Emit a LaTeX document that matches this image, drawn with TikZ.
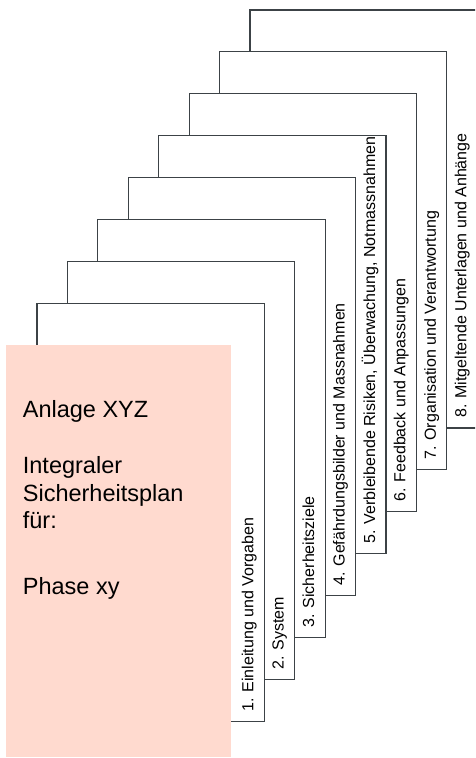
\documentclass[tikz,border=0pt]{standalone}
\usepackage{fontspec}
\setmainfont{Liberation Sans}
\definecolor{pinkbox}{RGB}{255,218,207}
\definecolor{sheetline}{RGB}{60,66,70}
\newcommand\mylabfont{\fontsize{16}{19}\selectfont}
\newcommand\mybigfont{\fontsize{23.5}{27}\selectfont}
\begin{document}
\begin{tikzpicture}[x=1pt,y=-1pt,
  sheet/.style={draw=sheetline, fill=white, line width=1.1pt, minimum width=227.3pt, minimum height=418pt, anchor=north west, inner sep=0pt, outer sep=0pt},
  lab/.style={rotate=90, anchor=base west, inner sep=0pt, font=\mylabfont},
  big/.style={anchor=base west, inner sep=0pt, font=\mybigfont},
  cover/.style={fill=pinkbox, anchor=north west, minimum width=225pt, minimum height=412pt, inner sep=0pt, outer sep=0pt}]
\useasboundingbox (0,0) rectangle (475,758);
\clip (0,0) rectangle (475,758);
\foreach \k in {8,7,...,1} {
  \node[sheet] (s\k) at ({37+30.43*(\k-1)}, {303.7-41.96*(\k-1)}) {};
}
\node[cover] (box) at (6,345) {};
\node[lab] (l1) at ([shift={(-11pt,10pt)}]s1.south east) {1. Einleitung und Vorgaben};
\node[lab] (l2) at ([shift={(-11pt,10pt)}]s2.south east) {2. System};
\node[lab] (l3) at ([shift={(-11pt,10pt)}]s3.south east) {3. Sicherheitsziele};
\node[lab] (l4) at ([shift={(-11pt,10pt)}]s4.south east) {4. Gefährdungsbilder und Massnahmen};
\node[lab] (l5) at ([shift={(-11pt,10pt)}]s5.south east) {5. Verbleibende Risiken, Überwachung, Notmassnahmen};
\node[lab] (l6) at ([shift={(-11pt,10pt)}]s6.south east) {6. Feedback und Anpassungen};
\node[lab] (l7) at ([shift={(-11pt,10pt)}]s7.south east) {7. Organisation und Verantwortung};
\node[lab] (l8) at ([shift={(-11pt,10pt)}]s8.south east) {8. Mitgeltende Unterlagen und Anhänge};
\node[big] (t1) at (22.7,417.3) {Anlage XYZ};
\node[big] (t2) at (22.7,473.3) {Integraler};
\node[big] (t3) at (22.7,501) {Sicherheitsplan};
\node[big] (t4) at (22.7,528.3) {für:};
\node[big] (t5) at (22.7,594.3) {Phase xy};
\end{tikzpicture}
\end{document}
